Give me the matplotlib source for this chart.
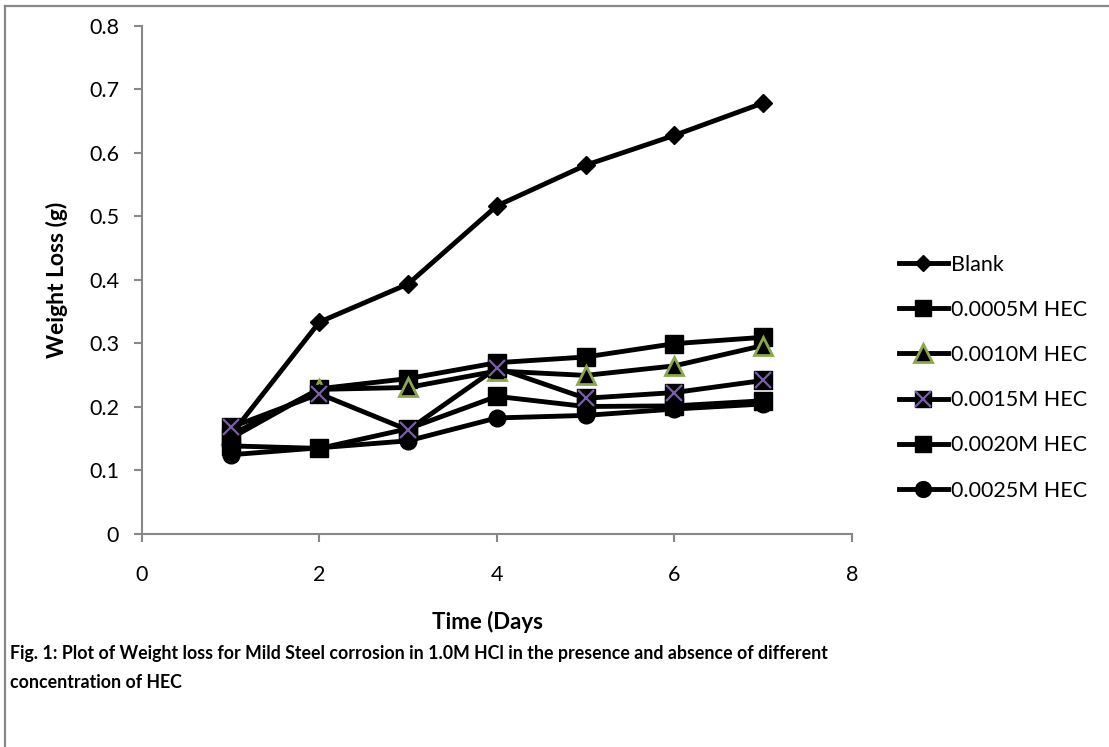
import matplotlib
matplotlib.use('Agg')
import matplotlib.pyplot as plt
from matplotlib.lines import Line2D

plt.rcParams['font.family'] = ['Lato', 'DejaVu Sans']

days = [1, 2, 3, 4, 5, 6, 7]
blank = [0.155, 0.333, 0.393, 0.516, 0.580, 0.627, 0.678]
hec_0005 = [0.150, 0.228, 0.244, 0.269, 0.278, 0.299, 0.309]
hec_0010 = [0.155, 0.227, 0.230, 0.256, 0.249, 0.264, 0.296]
hec_0015 = [0.167, 0.220, 0.163, 0.261, 0.213, 0.222, 0.241]
hec_0020 = [0.138, 0.134, 0.165, 0.216, 0.200, 0.201, 0.209]
hec_0025 = [0.124, 0.135, 0.146, 0.182, 0.186, 0.196, 0.204]

labels = ['Blank', '0.0005M HEC', '0.0010M HEC', '0.0015M HEC', '0.0020M HEC', '0.0025M HEC']
series = [blank, hec_0005, hec_0010, hec_0015, hec_0020, hec_0025]

fig = plt.figure(figsize=(11.09, 7.47), dpi=100)
ax = fig.add_axes([0.128, 0.2858, 0.640, 0.680])

# marker styles per series
styles = [
    dict(marker='D', markersize=9, markerfacecolor='black', markeredgecolor='black'),
    dict(marker='s', markersize=12.5, markerfacecolor='black', markeredgecolor='black'),
    dict(marker='^', markersize=13, markerfacecolor='black', markeredgecolor='#8aa84a', markeredgewidth=2),
    dict(marker='s', markersize=12.5, markerfacecolor='black', markeredgecolor='black'),
    dict(marker='s', markersize=12.5, markerfacecolor='black', markeredgecolor='black'),
    dict(marker='o', markersize=12, markerfacecolor='black', markeredgecolor='black'),
]

for vals, lab, st in zip(series, labels, styles):
    ax.plot(days, vals, color='black', linewidth=3.5, **st)

# purple cross on the 0.0015M series
ax.plot(days, hec_0015, linestyle='none', marker='x', markersize=12,
        markeredgecolor='#7a5fa8', markeredgewidth=1.6)

ax.set_xlim(0, 8)
ax.set_ylim(0, 0.8)
ax.set_xticks([0, 2, 4, 6, 8])
ax.set_yticks([0, 0.1, 0.2, 0.3, 0.4, 0.5, 0.6, 0.7, 0.8])
ax.set_yticklabels(['0', '0.1', '0.2', '0.3', '0.4', '0.5', '0.6', '0.7', '0.8'])
ax.tick_params(axis='both', labelsize=15.5, color='#888888', length=5.5, width=1.5,
               direction='out')
ax.tick_params(axis='x', pad=17)
ax.tick_params(axis='y', pad=11)
for s in ['top', 'right']:
    ax.spines[s].set_visible(False)
for s in ['left', 'bottom']:
    ax.spines[s].set_color('#888888')
    ax.spines[s].set_linewidth(1.5)

ax.set_xlabel('Time (Days', fontsize=16, fontweight='bold', labelpad=19)
ax.xaxis.label.set_x(0.487)
ax.set_ylabel('Weight Loss (g)', fontsize=16.5, fontweight='bold', labelpad=15)

# legend handles with the same marker look
handles = []
for lab, st in zip(labels, styles):
    st = dict(st)
    st['markersize'] = st['markersize'] * 0.95
    handles.append(Line2D([], [], color='black', linewidth=3.5, label=lab, **st))
leg_x = Line2D([], [], linestyle='none', marker='x', markersize=11,
               markeredgecolor='#7a5fa8', markeredgewidth=1.6)
handles[3] = (handles[3], leg_x)

ax.legend(handles=handles, labels=labels, loc='center left', bbox_to_anchor=(1.051, 0.307),
          frameon=False, fontsize=15.5, handlelength=2.3, handletextpad=0.15,
          labelspacing=1.17, borderpad=0)

fig.text(0.009, 1 - 654 / 747, 'Fig. 1: Plot of Weight loss for Mild Steel corrosion in 1.0M HCl in the presence and absence of different',
         fontsize=12.8, fontweight='bold', va='center')
fig.text(0.009, 1 - 682 / 747, 'concentration of HEC', fontsize=12.8, fontweight='bold', va='center')

# gray frame lines on left and top
fig.add_artist(Line2D([5 / 1109, 5 / 1109], [0, 1 - 6 / 747], transform=fig.transFigure,
                      color='#888888', linewidth=1.6))
fig.add_artist(Line2D([5 / 1109, 1], [1 - 6 / 747, 1 - 6 / 747], transform=fig.transFigure,
                      color='#888888', linewidth=1.6))

fig.savefig('out.png', dpi=100)
